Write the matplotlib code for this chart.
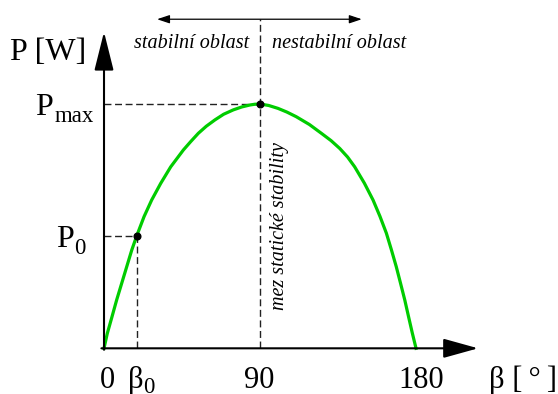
import numpy as np
import matplotlib
matplotlib.use('Agg')
import matplotlib.pyplot as plt

# power angle characteristic P(beta), P given as fraction of Pmax
beta_deg = [0, 1.9, 4.6, 7.3, 10.2, 13.1, 16.0, 18.9, 23.1, 27.5, 32.7, 38.5,
            45.8, 50.0, 54.4, 59.0, 64.0, 69.0, 74.6, 79.5, 84.2, 87.0, 90.0,
            95.0, 100.4, 105.5, 110.9, 118.5, 125.4, 131.0, 136.0, 140.5,
            144.6, 150.2, 155.2, 159.2, 162.9, 165.8, 168.6, 171.0, 173.5,
            175.7, 177.8, 180.0]
p_rel = [0, 0.061, 0.129, 0.198, 0.266, 0.334, 0.402, 0.461, 0.539, 0.607,
         0.675, 0.743, 0.812, 0.846, 0.880, 0.909, 0.935, 0.958, 0.976, 0.988,
         0.996, 0.999, 1.0, 0.994, 0.982, 0.967, 0.948, 0.916, 0.880, 0.850,
         0.818, 0.783, 0.743, 0.676, 0.607, 0.540, 0.471, 0.403, 0.334,
         0.268, 0.198, 0.129, 0.064, 0.0]

beta0 = 19.0
p0 = 0.461
beta_max = 90.0
p_max = 1.0

serif = 'Liberation Serif'
big = 22
small = 16.5
note = 14.5

fig = plt.figure(figsize=(5.58, 3.94), dpi=100)
ax = fig.add_axes([0, 0, 1, 1])
ax.set_xlim(-60.0, 261.9)
ax.set_ylim(-0.187, 1.4257)
ax.axis('off')

# axes with arrows
ax.annotate('', xy=(215.8, 0), xytext=(-1.5, 0),
            arrowprops=dict(arrowstyle='-|>,head_length=1.08,head_width=0.3',
                            lw=1.5, color='black', shrinkA=0, shrinkB=0,
                            mutation_scale=20))
ax.annotate('', xy=(0, 1.295), xytext=(0, -0.006),
            arrowprops=dict(arrowstyle='-|>,head_length=1.2,head_width=0.3',
                            lw=1.5, color='black', shrinkA=0, shrinkB=0,
                            mutation_scale=20))

# stable / unstable region arrow
ax.annotate('', xy=(148.7, 1.347), xytext=(30.6, 1.347),
            arrowprops=dict(arrowstyle='<|-|>,head_length=0.75,head_width=0.25',
                            lw=0.9, color='black', shrinkA=0, shrinkB=0,
                            mutation_scale=10))

dash = (0, (5, 2.6))
ax.plot([beta_max, beta_max], [0, 1.347], color='#222222', lw=1.0, ls=dash)
ax.plot([0, beta_max], [p_max, p_max], color='#222222', lw=1.0, ls=dash)
ax.plot([0, beta0], [p0, p0], color='#222222', lw=1.0, ls=dash)
ax.plot([beta0, beta0], [0, p0], color='#222222', lw=1.0, ls=dash)

ax.plot(beta_deg, p_rel, color='#00cc00', lw=2.3, solid_joinstyle='round')
ax.plot([beta0, beta_max], [p0, p_max], 'o', color='black', ms=4.8, zorder=5)

# labels
ax.text(-32.3, 1.18, 'P [W]', fontsize=big + 1, family=serif, ha='center', va='baseline')
ax.text(-39.8, 0.955, 'P', fontsize=big + 1, family=serif, ha='left', va='baseline')
ax.text(-28.5, 0.925, 'max', fontsize=small, family=serif, ha='left', va='baseline')
ax.text(-27.7, 0.415, 'P', fontsize=big + 1, family=serif, ha='left', va='baseline')
ax.text(-17.5, 0.385, '0', fontsize=small, family=serif, ha='left', va='baseline')

ax.text(1.7, -0.164, '0', fontsize=big, family=serif, ha='center', va='baseline')
ax.text(13.8, -0.164, 'β', fontsize=big, family=serif, ha='left', va='baseline')
ax.text(22.8, -0.182, '0', fontsize=small, family=serif, ha='left', va='baseline')
ax.text(89.4, -0.164, '90', fontsize=big, family=serif, ha='center', va='baseline')
ax.text(182.9, -0.164, '180', fontsize=big, family=serif, ha='center', va='baseline')
ax.text(222.1, -0.164, 'β [\u2009°\u2009]', fontsize=big, family=serif, ha='left', va='baseline')

ax.text(50.3, 1.231, 'stabilní oblast', fontsize=note, family=serif,
        style='italic', ha='center', va='baseline')
ax.text(135.6, 1.231, 'nestabilní oblast', fontsize=note, family=serif,
        style='italic', ha='center', va='baseline')
ax.text(101.2, 0.5, 'mez statické stability', fontsize=note, family=serif,
        style='italic', rotation=90, ha='center', va='center')

fig.savefig('out.png', dpi=100)
